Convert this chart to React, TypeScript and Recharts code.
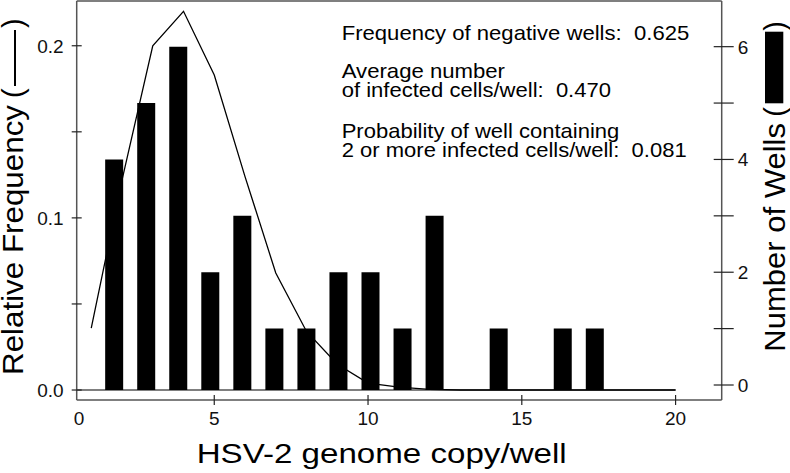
import {
  Bar,
  ComposedChart,
  Customized,
  Line,
  ReferenceLine,
  XAxis,
  YAxis,
} from 'recharts';

// bars: number of wells per genome copy bin
const BINS = [1, 2, 3, 4, 5, 6, 7, 8, 9, 10, 11, 12, 13, 14, 15, 16];
const WELLS = [4, 5, 6, 2, 3, 1, 1, 2, 2, 1, 3, 0, 1, 0, 1, 1];

// line: relative frequency curve
const COPIES = [1, 2, 3, 4, 5, 6, 7, 8, 9, 10, 11, 12, 13, 14, 15, 16, 17, 18, 19, 20];
const REL_FREQ = [
  0.036, 0.122, 0.2, 0.22, 0.183, 0.124, 0.068, 0.034, 0.015, 0.004, 0.0017,
  0.0004, 0, 0, 0, 0, 0, 0, 0, 0,
];

const X_TICKS = [0.6, 5, 10, 15, 20];
const X_TICK_LABELS = ['0', '5', '10', '15', '20'];
const LEFT_TICKS = [0, 0.05, 0.1, 0.15, 0.2];
const LEFT_TICK_LABELS = ['0.0', '', '0.1', '', '0.2'];
const RIGHT_TICKS = [0, 1, 2, 3, 4, 5, 6];
const RIGHT_TICK_LABELS = ['0', '', '2', '', '4', '', '6'];

const NOTES = [
  'Frequency of negative wells:  0.625',
  'Average number',
  'of infected cells/well:  0.470',
  'Probability of well containing',
  '2 or more infected cells/well:  0.081',
];

const rows = COPIES.map((c, i) => ({
  copies: c,
  freq: REL_FREQ[i],
  bin: i < BINS.length ? BINS[i] : null,
  wells: i < WELLS.length ? WELLS[i] : null,
}));

const FONT = '"Liberation Sans", Arial, Helvetica, sans-serif';
const FRAME = '#555';
const CHART_H = 473;
const X_AXIS_H = 73;
const PLOT_BOTTOM = CHART_H - X_AXIS_H;
const BAR_FLOOR = -0.089; // bars start at the left axis zero line
const NOTE_LAYOUT = [
  { y: 40, w: 347.6 },
  { y: 78.3, w: 163.3 },
  { y: 97.3, w: 269.3 },
  { y: 138.3, w: 277.6 },
  { y: 156.7, w: 345 },
];

function BottomTick(props: any) {
  const { x, payload } = props;
  const y = PLOT_BOTTOM;
  const i = X_TICKS.indexOf(payload.value);
  return (
    <g>
      {i > 0 && <line x1={x} x2={x} y1={y - 5} y2={y + 5} stroke="#222" strokeWidth={1.2} />}
      <text x={x} y={y + 25} textAnchor="middle" fontSize={19} fontFamily={FONT} fill="#111">
        {X_TICK_LABELS[i]}
      </text>
    </g>
  );
}

function LeftTick(props: any) {
  const { x, y, payload } = props;
  const i = LEFT_TICKS.indexOf(payload.value);
  return (
    <g>
      <line x1={x - 5} x2={x + 5} y1={y} y2={y} stroke="#222" strokeWidth={1.2} />
      <text x={x - 13} y={y + 7} textAnchor="end" fontSize={19} fontFamily={FONT} fill="#111">
        {LEFT_TICK_LABELS[i]}
      </text>
    </g>
  );
}

function RightTick(props: any) {
  const { x, y, payload } = props;
  const i = RIGHT_TICKS.indexOf(payload.value);
  return (
    <g>
      <line x1={x - 8} x2={x + 12} y1={y} y2={y} stroke="#222" strokeWidth={1.2} />
      <text x={x + 16} y={y + 7} textAnchor="start" fontSize={19} fontFamily={FONT} fill="#111">
        {RIGHT_TICK_LABELS[i]}
      </text>
    </g>
  );
}

function Texts() {
  return (
    <g fontFamily={FONT} fill="#000">
      {NOTES.map((t, i) => (
        <text
          key={t}
          x={341.7}
          y={NOTE_LAYOUT[i].y}
          fontSize={21}
          textLength={NOTE_LAYOUT[i].w}
          lengthAdjust="spacingAndGlyphs"
          style={{ whiteSpace: 'pre' }}
        >
          {t}
        </text>
      ))}
      <text
        x={196.7}
        y={463.3}
        fontSize={28}
        textLength={370}
        lengthAdjust="spacingAndGlyphs"
      >
        HSV-2 genome copy/well
      </text>
      {/* left title with line key */}
      <g transform="translate(23,375) rotate(-90)">
        <text x={0} y={0} fontSize={29} textLength={270} lengthAdjust="spacingAndGlyphs">
          Relative Frequency
        </text>
        <text x={277} y={0} fontSize={29}>(</text>
        <line x1={289} x2={345} y1={-8} y2={-8} stroke="#000" strokeWidth={2} />
        <text x={347} y={0} fontSize={29}>)</text>
      </g>
      {/* right title with bar key */}
      <g transform="translate(785,351.7) rotate(-90)">
        <text x={0} y={0} fontSize={29} textLength={228.7} lengthAdjust="spacingAndGlyphs">
          Number of Wells
        </text>
        <text x={235} y={0} fontSize={29}>(</text>
        <rect x={248.4} y={-20} width={71.6} height={18.3} fill="#000" />
        <text x={321} y={0} fontSize={29}>)</text>
      </g>
    </g>
  );
}

export default function App() {
  return (
    <div style={{ position: 'absolute', left: 0, top: 0, background: '#fff' }}>
      <ComposedChart
        width={790}
        height={CHART_H}
        data={rows}
        margin={{ top: 1, right: 0, bottom: 0, left: 0 }}
      >
        <XAxis
          xAxisId="line"
          dataKey="copies"
          type="number"
          domain={[0.527, 21.5]}
          allowDataOverflow
          ticks={X_TICKS}
          interval={0}
          tick={<BottomTick />}
          tickLine={false}
          tickSize={0}
          tickMargin={0}
          axisLine={{ stroke: FRAME, strokeWidth: 1.5 }}
          height={X_AXIS_H}
        />
        <XAxis
          xAxisId="bin"
          dataKey="bin"
          orientation="top"
          type="number"
          domain={[-0.17, 19.96]}
          allowDataOverflow
          hide
        />
        <YAxis
          yAxisId="left"
          type="number"
          domain={[-0.0058, 0.226]}
          allowDataOverflow
          ticks={LEFT_TICKS}
          interval={0}
          tick={<LeftTick />}
          tickLine={false}
          tickSize={0}
          tickMargin={0}
          axisLine={{ stroke: FRAME, strokeWidth: 1.5 }}
          width={76.7}
        />
        <YAxis
          yAxisId="right"
          orientation="right"
          type="number"
          domain={[-0.266, 6.81]}
          allowDataOverflow
          ticks={RIGHT_TICKS}
          interval={0}
          tick={<RightTick />}
          tickLine={false}
          tickSize={0}
          tickMargin={0}
          axisLine={{ stroke: FRAME, strokeWidth: 1.5 }}
          width={68.3}
        />
        <ReferenceLine
          xAxisId="line"
          yAxisId="left"
          y={0.226}
          stroke={FRAME}
          strokeWidth={1.5}
        />
        <ReferenceLine
          xAxisId="line"
          yAxisId="left"
          segment={[
            { x: 0.527, y: 0 },
            { x: 20, y: 0 },
          ]}
          stroke="#000"
          strokeWidth={1.2}
        />
        <Bar
          xAxisId="bin"
          yAxisId="right"
          dataKey={(d: any) => (d.wells ? [BAR_FLOOR, d.wells] : null)}
          fill="#000"
          barSize={18}
          isAnimationActive={false}
        />
        <Line
          xAxisId="line"
          yAxisId="left"
          type="linear"
          dataKey="freq"
          stroke="#000"
          strokeWidth={1.3}
          dot={false}
          isAnimationActive={false}
        />
        <Customized component={Texts} />
      </ComposedChart>
    </div>
  );
}
